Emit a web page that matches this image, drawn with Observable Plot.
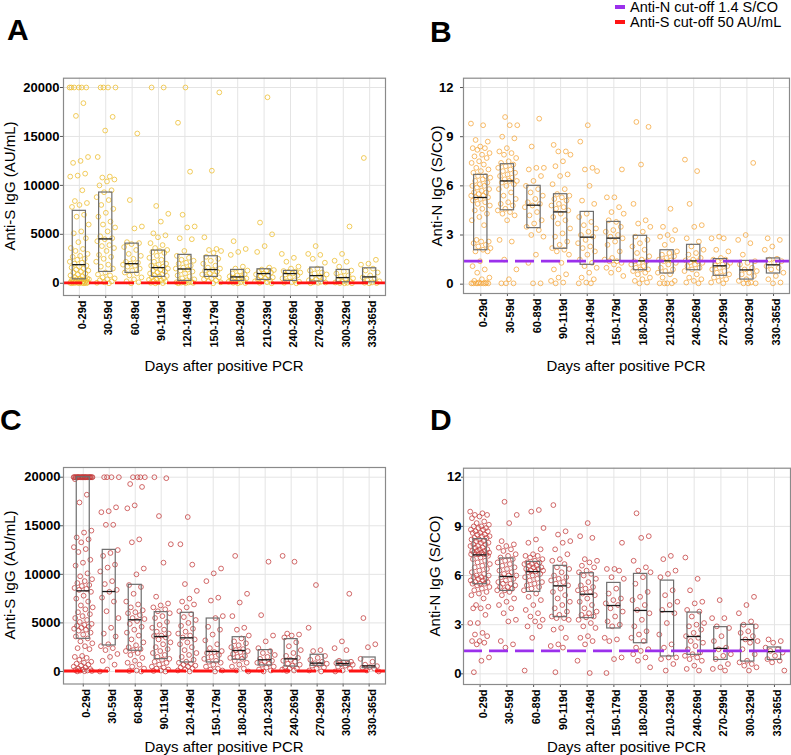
<!DOCTYPE html>
<html>
<head>
<meta charset="utf-8">
<script src="https://cdn.jsdelivr.net/npm/d3@7"></script>
<script src="https://cdn.jsdelivr.net/npm/@observablehq/plot@0.6"></script>
<style>
html, body { margin: 0; padding: 0; background: #fff; }
#fig { position: relative; width: 791px; height: 755px; overflow: hidden; font-family: "Liberation Sans", Arial, sans-serif; color: #000; }
.abs { position: absolute; white-space: nowrap; line-height: 1; }
.panel { position: absolute; }
.panel svg { overflow: visible; }
.panel g[aria-label="x-axis tick label"] { font-weight: 700; font-size: 11px; }
.panel g[aria-label="y-axis tick label"] { font-weight: 700; font-size: 13px; }
</style>
</head>
<body>
<div id="fig"></div>
<script>
// ---------- categories & labels ----------
const days = ["0-29d","30-59d","60-89d","90-119d","120-149d","150-179d","180-209d","210-239d","240-269d","270-299d","300-329d","330-365d"];
const ticksS = [0, 5000, 10000, 15000, 20000];
const ticksN = [0, 3, 6, 9, 12];
const cutoffS = 50;
const cutoffN = 1.4;
const legendLabels = ["Anti-N cut-off 1.4 S/CO", "Anti-S cut-off 50 AU/mL"];
const panelLetters = ["A", "B", "C", "D"];
const yTitleS = "Anti-S IgG (AU/mL)";
const yTitleN = "Anti-N IgG (S/CO)";
const xTitle = "Days after positive PCR";

// ---------- Panel A: Anti-S (first cohort) ----------
const pointsA = [
  [20000,20000,20000,20000,20000,20000,18400,17100,12900,12500,12300,11200,11000,10900,9500,8400,8200,8000,7800,7000,6800,6000,5300,5100,4600,4200,3600,3500,3300,3000,2800,2700,2500,2400,2200,2100,2000,1800,1700,1600,1500,1400,1300,1200,1100,1000,900,800,700,600,500,450,420,400,400,400,350,300,280,250,200,180,150,120,100,80,60,50,40,30,20,10,5,0,0],
  [20000,20000,20000,20000,17000,15600,12900,10900,10800,10600,10400,10000,9500,9300,8800,8500,8000,7600,7200,6800,6300,6000,5700,5300,4800,4600,4500,4300,3900,3800,3600,3300,2900,2700,2500,2200,1900,1700,1500,1100,900,800,600,500,400,300,200,100,50,0],
  [15300,8500,5800,5600,4200,4100,4000,3700,3400,3000,2800,2500,2200,2100,2000,1900,1800,1700,1500,1300,1100,1000,800,600,400,200,100,0],
  [20000,20000,7900,7100,6300,5100,4900,4700,4100,3900,3600,3400,3300,3200,3100,2800,2600,2400,2200,2000,1900,1800,1700,1600,1500,1400,1300,1200,1100,1000,900,800,750,700,600,500,400,350,300,250,200,100,50,20,0],
  [20000,16400,11400,7000,5800,5700,4600,4500,3300,2800,2600,2400,2300,2100,2000,1800,1600,1500,1400,1300,1200,1000,800,700,500,400,300,200,150,120,100,80,60,40,20,0],
  [19500,11500,4700,3500,3400,3300,3100,2700,2500,2300,2000,1800,1600,1500,1350,1300,1200,1000,900,800,700,600,500,400,300,200,100,0],
  [4300,3500,3200,2900,1700,1500,1300,1200,1000,900,800,700,600,550,500,400,350,300,200,150,100,50,20,0],
  [19000,6200,5000,3800,3200,1600,1400,1350,1300,1200,1100,1000,900,800,700,600,500,400,300,250,200,100,50,0],
  [3000,2600,2200,1700,1500,1250,1200,1150,1100,1000,900,800,600,500,300,200,150,100,50,0],
  [3800,3000,2900,2500,2100,1500,1300,1100,1000,900,700,600,500,400,300,150,100,80,50,0],
  [5800,3000,2300,2200,1700,1300,1200,1000,800,700,500,400,300,200,150,80,50,20,0,0],
  [12800,2400,2000,1900,1500,1300,1100,800,600,500,300,200,80,50,20,0]
];
const q1A  = [400, 1160, 1060, 650, 240, 650, 240, 340, 240, 170, 100, 100];
const medA = [1900, 4530, 2000, 1600, 1460, 1400, 650, 990, 990, 780, 580, 650];
const q3A  = [7400, 9270, 4050, 3340, 2900, 2760, 1360, 1430, 1260, 1600, 1360, 1530];

// ---------- Panel B: Anti-N (first cohort) ----------
const pointsB = [
  [9.8,9.7,8.8,8.7,8.4,8.3,8.3,8.2,8.0,7.9,7.8,7.7,7.5,7.4,7.3,7.1,7.0,6.9,6.8,6.6,6.6,6.5,6.4,6.3,6.2,6.1,6.0,6.0,5.9,5.8,5.7,5.6,5.6,5.5,5.4,5.4,5.3,5.3,5.2,5.1,5.0,4.9,4.8,4.6,4.5,4.3,4.1,3.9,3.6,2.7,2.6,2.6,2.5,2.4,2.3,2.2,2.1,2.0,2.0,1.4,1.1,0.9,0.7,0.4,0.3,0.2,0.1,0.1,0.05,0.05,0.05,0.05,0.05,0.05,0.05,0.05],
  [10.2,9.7,9.7,9.0,8.9,8.3,8.1,8.0,7.9,7.7,7.5,7.4,7.3,7.2,7.1,7.0,6.9,6.8,6.7,6.6,6.5,6.4,6.3,6.3,6.2,6.1,6.0,5.8,5.6,5.4,5.2,5.0,4.9,4.8,4.6,4.5,4.4,4.3,4.2,3.9,2.7,2.6,1.5,0.9,0.3,0.05,0.05,0.05],
  [10.1,8.4,7.1,7.1,7.0,6.6,6.3,6.0,5.8,5.6,5.4,5.2,5.0,4.9,4.8,4.7,4.4,4.2,3.9,3.7,3.5,3.3,3.0,2.9,1.8,1.3,0.05,0.05],
  [8.5,8.1,8.1,7.9,7.5,7.2,6.7,6.6,6.1,5.8,5.5,5.4,5.3,5.2,5.1,4.9,4.8,4.7,4.6,4.5,4.3,4.1,3.9,3.7,3.4,3.1,2.9,2.6,2.4,2.2,2.1,2.0,1.8,1.3,0.9,0.6,0.4,0.2,0.1,0.05],
  [9.7,8.7,7.1,7.0,6.9,6.0,5.1,4.9,4.3,4.1,3.8,3.6,3.4,3.2,3.0,2.9,2.7,2.5,2.3,2.2,2.0,1.8,1.5,1.3,1.1,1.0,0.7,0.4,0.3,0.1,0.05,0.05],
  [7.0,5.3,5.3,4.7,4.4,4.3,3.8,3.9,3.5,3.3,3.2,3.0,2.9,2.8,2.6,2.4,2.0,1.6,1.5,1.4,1.4,1.3,1.2,1.0,0.9,0.7,0.5],
  [9.9,9.6,7.3,4.9,3.9,3.7,3.5,3.2,2.9,2.7,2.5,2.3,2.1,1.9,1.7,1.5,1.4,1.4,1.3,1.2,1.1,1.0,0.9,0.9,0.8,0.7,0.6,0.4,0.3,0.2,0.1,0.05],
  [4.6,3.5,3.3,3.0,2.9,2.7,2.4,2.0,1.9,1.8,1.7,1.6,1.5,1.45,1.4,1.3,1.2,1.0,0.9,0.8,0.7,0.6,0.4,0.2,0.05,0.05,0.05,0.05],
  [7.6,6.9,4.9,3.6,3.5,2.8,2.6,2.3,2.1,1.9,1.8,1.6,1.5,1.45,1.4,1.35,1.3,1.2,1.1,1.0,0.9,0.8,0.6,0.4,0.3,0.2,0.1,0.05],
  [2.9,2.8,2.8,2.1,2.0,1.6,1.5,1.5,1.4,1.3,1.2,1.15,1.1,1.0,0.9,0.8,0.7,0.6,0.5,0.4,0.3,0.2,0.1,0.05],
  [7.4,3.0,2.7,2.5,1.8,1.4,1.3,1.2,1.0,0.9,0.8,0.7,0.6,0.5,0.3,0.2,0.1,0.05,0.05,0.05],
  [2.8,2.7,2.3,2.1,1.55,1.5,1.4,1.3,1.1,1.0,0.9,0.7,0.5,0.3,0.1,0.05]
];
const q1B  = [2.07, 4.51, 3.42, 2.16, 1.18, 1.42, 0.85, 0.65, 0.85, 0.51, 0.28, 0.65];
const medB = [5.29, 6.30, 4.82, 4.41, 2.87, 2.81, 1.42, 1.42, 1.42, 1.12, 0.87, 1.18];
const q3B  = [6.67, 7.32, 6.00, 5.49, 4.41, 3.80, 2.95, 2.07, 2.40, 1.53, 1.42, 1.57];

// ---------- Panel C: Anti-S (second cohort) ----------
const pointsC = [
  [20000,20000,20000,20000,20000,20000,20000,20000,20000,20000,20000,20000,20000,20000,20000,20000,20000,20000,20000,20000,20000,20000,20000,20000,20000,20000,19800,18200,17400,14500,14300,13800,13600,13300,12800,12600,12300,11500,11200,10900,10100,9800,9500,9300,9100,8900,8800,8600,8500,8400,8200,7800,7500,7200,6800,6600,6400,6100,5900,5700,5500,5300,5100,4900,4800,4700,4600,4500,4400,4300,4200,4000,3800,3600,3400,3100,2900,2600,2400,2300,1600,1500,1400,1200,1000,900,800,700,600,500,400,300,250,200,150,100,80,50,30,10],
  [20000,20000,20000,20000,16900,16500,16400,15100,15100,12500,12200,11900,11000,10700,10300,9300,9000,8400,8200,7600,7200,6200,5500,4500,3900,3600,2800,2600,2400,2200,1800,1500,1100,700,200,0],
  [20000,20000,20000,20000,19300,19000,17100,16800,13600,13300,10600,10000,8900,8700,8000,7200,6900,6600,6300,6100,6000,5800,5500,5400,5200,4900,4600,4300,4000,3700,3300,3000,2700,2500,2300,2200,2100,1900,1700,1400,1100,900,700,500,300,100,50,0],
  [20000,19900,16000,13100,11200,7700,7000,6800,6600,6400,6200,6000,5700,5500,5100,4800,4500,4300,4100,3900,3700,3650,3500,3300,3000,2800,2500,2300,2100,1900,1700,1500,1300,1200,1000,900,700,500,400,300,200,100,50,0],
  [15900,13100,11000,9000,8300,7500,7200,6900,6600,6200,5900,5600,5300,5000,4700,4400,4100,3900,3700,3500,3300,3000,2800,2500,2200,1900,1700,1500,1200,1000,900,800,700,600,500,400,300,200,100,0],
  [10600,10100,9300,7600,7300,5700,5500,4600,4300,3800,3200,2800,2400,2100,2000,1900,1700,1500,1300,1100,1000,900,700,500,300,200,100,0],
  [11900,8000,7100,5700,4500,4300,3700,3400,3100,2900,2700,2500,2300,2200,2100,2000,1800,1600,1500,1400,1300,1100,900,700,500,300,100,0],
  [11300,5800,3700,3100,2400,2100,1900,1700,1500,1300,1100,1000,900,800,700,500,400,200,100,0],
  [11900,11300,3900,3800,3700,3500,3000,2600,2200,1900,1600,1400,1200,1100,1000,800,700,600,400,300,300,200,100,50],
  [8900,4500,2200,2100,1600,1400,1200,1000,850,800,700,600,400,300,100,0],
  [8000,3100,2400,2200,1100,1000,900,850,800,750,700,600,500,300,100,0],
  [5500,2800,2500,1300,1000,700,550,450,400,300,100,0]
];
const q1C  = [3360, 2680, 2130, 1270, 930, 930, 1200, 620, 510, 580, 580, 340];
const medC = [8300, 8230, 5320, 3600, 3460, 2060, 2160, 1200, 1300, 860, 820, 580];
const q3C  = [20000, 12520, 8920, 6110, 6040, 5450, 3530, 2200, 3330, 1720, 1100, 1440];

// ---------- Panel D: Anti-N (second cohort) ----------
const pointsD = [
  [9.9,9.8,9.7,9.7,9.6,9.5,9.3,9.2,9.1,9.0,9.0,8.9,8.9,8.8,8.8,8.7,8.7,8.6,8.6,8.5,8.5,8.4,8.4,8.3,8.3,8.2,8.2,8.1,8.1,8.0,8.0,7.9,7.9,7.8,7.8,7.7,7.7,7.6,7.6,7.5,7.5,7.5,7.4,7.4,7.4,7.3,7.3,7.3,7.3,7.3,7.2,7.1,7.0,6.9,6.8,6.7,6.6,6.5,6.4,6.3,6.2,6.1,6.0,6.0,5.9,5.9,5.8,5.8,5.7,5.7,5.6,5.6,5.5,5.5,5.5,5.4,5.3,5.2,5.1,5.0,4.9,4.8,4.6,4.2,4.1,4.0,4.0,3.6,3.1,3.1,2.5,2.4,2.3,2.0,2.0,1.9,1.8,1.0,0.8,0.1],
  [10.5,9.7,9.2,8.1,7.9,7.8,7.7,7.6,7.5,7.3,7.2,7.1,7.0,6.9,6.8,6.7,6.6,6.5,6.4,6.3,6.2,6.1,6.0,6.0,5.9,5.8,5.7,5.6,5.5,5.5,5.4,5.3,5.3,5.2,5.1,5.1,5.0,4.8,4.6,4.4,4.2,4.0,3.7,3.3,3.2,2.0,1.8,1.6],
  [10.0,9.9,8.9,8.2,8.0,7.6,7.3,7.2,7.2,7.1,7.0,6.9,6.8,6.8,6.7,6.7,6.6,6.6,6.5,6.5,6.4,6.4,6.3,6.3,6.25,6.2,6.1,6.0,5.9,5.8,5.7,5.6,5.5,5.4,5.3,5.2,5.1,4.9,4.7,4.5,4.2,3.9,3.7,3.5,3.3,3.2,2.9,2.9,2.2,0.2],
  [10.3,8.7,8.5,8.1,8.0,7.6,7.3,7.0,6.9,6.7,6.5,6.4,6.2,6.0,5.9,5.8,5.7,5.6,5.5,5.4,5.2,5.0,4.8,4.6,4.4,4.2,4.0,3.8,3.6,3.5,3.4,3.4,3.3,2.8,2.7,2.2,1.8,1.7,1.6,0.1],
  [9.2,8.4,8.3,7.0,6.9,6.8,6.6,6.5,6.3,6.2,6.1,6.0,5.8,5.6,5.4,5.3,5.2,5.1,5.0,4.9,4.8,4.6,4.4,4.2,4.0,3.8,3.7,3.6,3.5,3.45,3.3,3.1,2.9,2.8,2.3,2.2,2.0,1.8,0.8,0.05],
  [8.0,6.4,6.4,6.3,5.9,5.8,5.2,4.9,4.6,4.5,4.3,4.2,4.0,3.8,3.5,3.2,3.0,2.9,2.2,2.1,2.0,1.0,0.9,0.05],
  [9.8,8.4,8.3,6.9,6.5,6.3,6.2,5.9,5.5,5.0,4.7,4.5,4.2,3.9,3.7,3.3,2.9,2.6,2.4,2.2,2.0,1.6,1.5,1.4,1.2,1.0,0.8,0.4],
  [7.2,7.0,6.3,6.1,5.9,5.1,4.8,4.4,4.2,3.9,3.7,3.1,2.4,1.8,1.6,1.0,1.0,0.9,0.6,0.2],
  [7.1,5.8,5.1,4.4,4.3,3.9,3.8,3.5,3.1,3.0,2.9,2.7,2.5,2.3,2.2,2.0,1.9,1.7,1.5,1.3,1.2,1.1,1.0,0.9,0.8,0.5,0.3,0.2],
  [4.5,3.4,3.4,2.9,2.8,2.3,2.0,1.6,1.5,1.2,1.1,0.9,0.6,0.4,0.3,0.2],
  [4.7,4.2,3.7,3.2,3.0,2.9,2.6,2.5,2.3,2.1,2.0,1.9,1.5,1.2,0.8,0.7,0.6,0.5,0.4,0.2],
  [2.1,2.0,1.9,1.6,1.5,1.4,1.3,1.1,0.9,0.8,0.7,0.2]
];
const q1D  = [5.47, 5.06, 5.00, 3.46, 3.40, 2.77, 1.87, 1.06, 1.16, 0.85, 0.75, 0.85];
const medD = [7.26, 5.94, 6.24, 5.37, 4.86, 4.17, 3.87, 3.80, 2.28, 1.55, 2.09, 1.36];
const q3D  = [8.22, 7.04, 6.83, 6.59, 6.14, 5.55, 6.10, 5.69, 3.74, 2.85, 2.99, 1.61];

// ---------- drawing ----------
const fig = document.getElementById("fig");
const idx = d3.range(days.length);

// deterministic horizontal spread of the points inside each category band
function spread(i, j) {
  const f = (j * 0.6180339887 + i * 0.381966) % 1;
  return (f - 0.5) * 0.74;
}

function makePanel(cfg) {
  const pts = [];
  cfg.points.forEach((vals, i) => vals.forEach((v, j) => pts.push({i, j, v})));
  const boxes = idx.map(i => ({i, q1: cfg.q1[i], med: cfg.med[i], q3: cfg.q3[i]}));
  const svg = Plot.plot({
    width: cfg.width,
    height: cfg.height,
    marginLeft: cfg.mL, marginRight: cfg.mR, marginTop: cfg.mT, marginBottom: cfg.mB,
    style: {fontFamily: "'Liberation Sans', Arial, sans-serif", fontSize: "11px", color: "#000", background: "transparent", overflow: "visible"},
    x: {type: "linear", domain: cfg.xDomain},
    y: {type: "linear", domain: cfg.yDomain},
    marks: [
      Plot.gridX(idx, {stroke: "#e4e4e4", strokeOpacity: 1, strokeWidth: 1}),
      Plot.gridY(cfg.yTicks, {stroke: "#e4e4e4", strokeOpacity: 1, strokeWidth: 1}),
      Plot.dot(pts, {x: d => d.i + spread(d.i, d.j), y: "v", r: 2.4, stroke: cfg.color, strokeWidth: 0.9, strokeOpacity: 0.85, fill: "none"}),
      Plot.rect(boxes, {x1: d => d.i - 0.25, x2: d => d.i + 0.25, y1: "q1", y2: "q3", stroke: "#6e6e6e", strokeWidth: 1.2, fill: "none"}),
      Plot.ruleY(boxes, {x1: d => d.i - 0.25, x2: d => d.i + 0.25, y: "med", stroke: "#1a1a1a", strokeWidth: 1.3}),
      Plot.ruleY([cfg.cutoff], {stroke: cfg.cutColor, strokeWidth: 2.8, strokeDasharray: "19,7"}),
      Plot.axisX(idx, {tickSize: 3, fill: "none", stroke: "#555", label: null}),
      Plot.axisX(idx, {tickSize: 3, tickPadding: 2, stroke: "none", tickRotate: -90, textAnchor: "end", tickFormat: i => days[i], dx: cfg.labelDx, label: null}),
      Plot.axisY(cfg.yTicks, {tickSize: cfg.yTickSize, tickPadding: cfg.yPad, stroke: "#555", tickFormat: d => String(d), label: null}),
      Plot.frame({stroke: "#8a8a8a", strokeWidth: 1.2})
    ]
  });
  const wrap = document.createElement("div");
  wrap.className = "panel";
  wrap.style.left = cfg.left + "px";
  wrap.style.top = cfg.top + "px";
  wrap.appendChild(svg);
  fig.appendChild(wrap);
}

const colA = "#ecbc2c", colB = "#f5a53a", colCD = "#c23b3b";
const purple = "#9b30ec", red = "#ff1414";

makePanel({points: pointsA, q1: q1A, med: medA, q3: q3A, color: colA, yTicks: ticksS, cutoff: cutoffS, cutColor: red,
  left: 0, top: 60, width: 395, height: 300, mL: 63, mR: 10, mT: 17.7, mB: 65,
  xDomain: [-0.6, 11.6], yDomain: [-1250, 20950], yTickSize: 3, yPad: 1, labelDx: 3});
makePanel({points: pointsB, q1: q1B, med: medB, q3: q3B, color: colB, yTicks: ticksN, cutoff: cutoffN, cutColor: purple,
  left: 400, top: 60, width: 391, height: 300, mL: 63, mR: 2, mT: 17.7, mB: 67,
  xDomain: [-0.65, 11.6], yDomain: [-0.57, 12.57], yTickSize: 3, yPad: 7, labelDx: 3});
makePanel({points: pointsC, q1: q1C, med: medC, q3: q3C, color: colCD, yTicks: ticksS, cutoff: cutoffS, cutColor: red,
  left: 0, top: 450, width: 395, height: 305, mL: 63, mR: 10, mT: 17, mB: 71.5,
  xDomain: [-0.76, 11.63], yDomain: [-1290, 21000], yTickSize: 3, yPad: 0, labelDx: 3});
makePanel({points: pointsD, q1: q1D, med: medD, q3: q3D, color: colCD, yTicks: ticksN, cutoff: cutoffN, cutColor: purple,
  left: 400, top: 450, width: 391, height: 305, mL: 63, mR: 1, mT: 17.7, mB: 71,
  xDomain: [-0.62, 11.6], yDomain: [-0.65, 12.55], yTickSize: 2, yPad: 0, labelDx: 3});

// ---------- text overlays ----------
function addText(txt, {x, baseline, size, weight = 400, anchor = "start"}) {
  const d = document.createElement("div");
  d.className = "abs";
  d.textContent = txt;
  d.style.fontSize = size + "px";
  d.style.fontWeight = weight;
  d.style.top = (baseline - 0.8465 * size) + "px";
  d.style.left = x + "px";
  if (anchor === "middle") d.style.transform = "translateX(-50%)";
  fig.appendChild(d);
}
function addVText(txt, {cx, cy, size}) {
  const d = document.createElement("div");
  d.className = "abs";
  d.textContent = txt;
  d.style.fontSize = size + "px";
  d.style.left = cx + "px";
  d.style.top = cy + "px";
  d.style.transform = "translate(-50%, -50%) rotate(-90deg)";
  fig.appendChild(d);
}
function addKey(color, {x, y, w, h}) {
  const d = document.createElement("div");
  d.style.position = "absolute";
  d.style.left = x + "px"; d.style.top = y + "px";
  d.style.width = w + "px"; d.style.height = h + "px";
  d.style.background = color;
  fig.appendChild(d);
}

// panel letters
addText(panelLetters[0], {x: 7, baseline: 40.5, size: 30, weight: 700});
addText(panelLetters[1], {x: 430, baseline: 42, size: 30, weight: 700});
addText(panelLetters[2], {x: 0, baseline: 430, size: 30, weight: 700});
addText(panelLetters[3], {x: 430, baseline: 430, size: 30, weight: 700});

// axis titles
addVText(yTitleS, {cx: 8.8, cy: 186, size: 15});
addVText(yTitleN, {cx: 435.5, cy: 186, size: 15});
addVText(yTitleS, {cx: 8.8, cy: 575, size: 15});
addVText(yTitleN, {cx: 434, cy: 576, size: 15});
addText(xTitle, {x: 224, baseline: 371, size: 15, anchor: "middle"});
addText(xTitle, {x: 626, baseline: 371, size: 15, anchor: "middle"});
addText(xTitle, {x: 224, baseline: 751.5, size: 15, anchor: "middle"});
addText(xTitle, {x: 626.5, baseline: 751.5, size: 15, anchor: "middle"});

// legend
addKey(purple, {x: 615, y: 5, w: 10, h: 4});
addText(legendLabels[0], {x: 630, baseline: 12, size: 14.5});
addKey(red, {x: 615, y: 20, w: 10, h: 4});
addText(legendLabels[1], {x: 630, baseline: 27, size: 14.5});
</script>
</body>
</html>
